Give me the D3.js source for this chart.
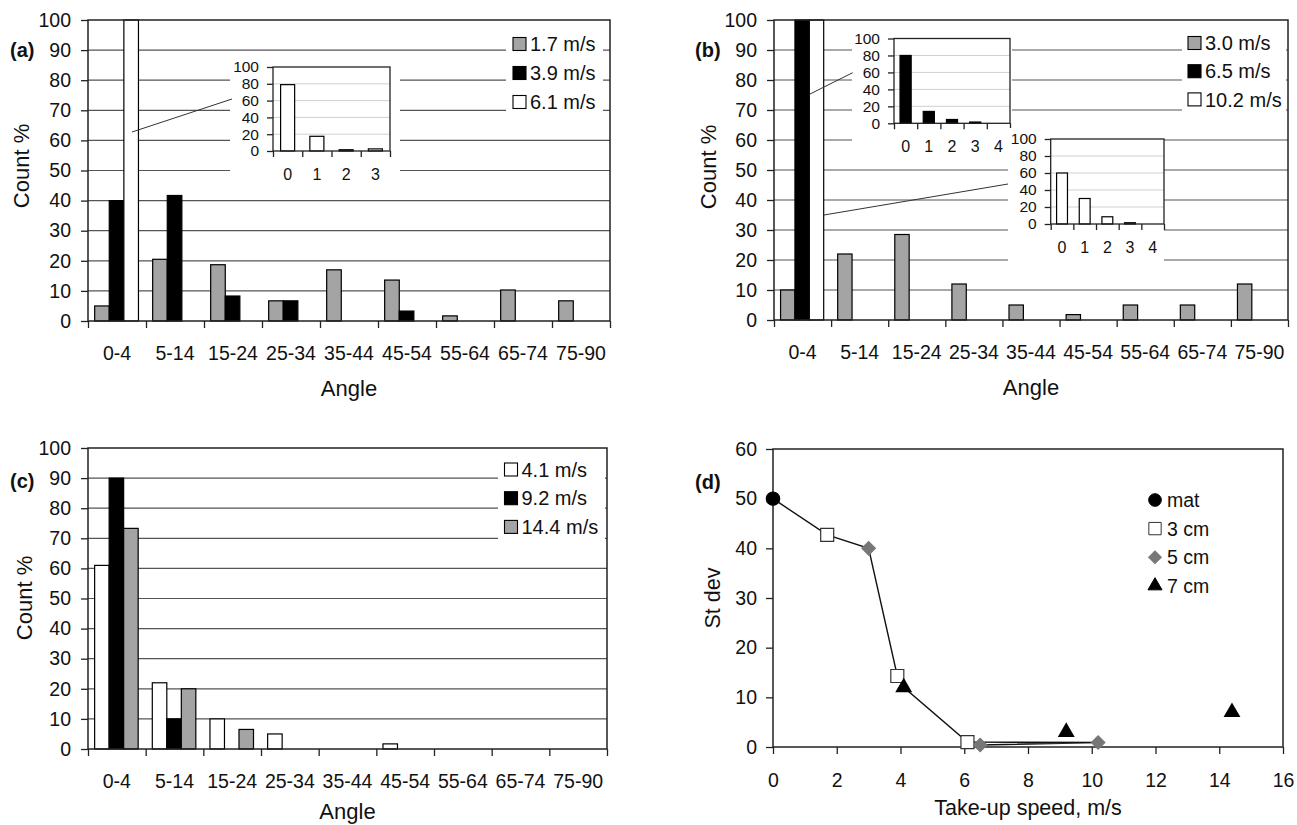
<!DOCTYPE html>
<meta charset="utf-8">
<script src="https://d3js.org/d3.v7.min.js"></script>
<style>
  body { margin: 0; background: #fff; }
</style>
<svg id="fig" width="1297" height="825"></svg>
<script>

// shared categories and ticks
var angleBins = ["0-4", "5-14", "15-24", "25-34", "35-44", "45-54", "55-64", "65-74", "75-90"];
var countTicks = [0, 10, 20, 30, 40, 50, 60, 70, 80, 90, 100];
var insetTicks = [0, 20, 40, 60, 80, 100];

// (a)
var speedsA = ["1.7 m/s", "3.9 m/s", "6.1 m/s"];
var countA17 = [5, 20.5, 18.7, 6.7, 17, 13.6, 1.7, 10.3, 6.7];
var countA39 = [40, 41.7, 8.3, 6.7, 0, 3.3, 0, 0, 0];
var countA61 = [100, 0, 0, 0, 0, 0, 0, 0, 0];
var insetBinsA = ["0", "1", "2", "3"];
var insetA61 = [79, 17.5, 1.5, 2.5];

// (b)
var speedsB = ["3.0 m/s", "6.5 m/s", "10.2 m/s"];
var countB30 = [10, 22, 28.5, 12, 5, 1.8, 5, 5, 12];
var countB65 = [100, 0, 0, 0, 0, 0, 0, 0, 0];
var countB102 = [100, 0, 0, 0, 0, 0, 0, 0, 0];
var insetBinsB = ["0", "1", "2", "3", "4"];
var insetB65 = [80, 14, 4.5, 1.5, 0];
var insetB102 = [60, 30, 8.5, 1.5, 0];

// (c)
var speedsC = ["4.1 m/s", "9.2 m/s", "14.4 m/s"];
var countC41 = [61, 22, 10, 5, 0, 1.7, 0, 0, 0];
var countC92 = [90, 10, 0, 0, 0, 0, 0, 0, 0];
var countC144 = [73.3, 20, 6.5, 0, 0, 0, 0, 0, 0];

// (d) st dev vs take-up speed
var groupsD = ["mat", "3 cm", "5 cm", "7 cm"];
var matX = [0], matY = [50];
var cm3X = [1.7, 3.9, 6.1], cm3Y = [42.7, 14.3, 1.0];
var cm5X = [3.0, 6.5, 10.2], cm5Y = [40, 0.4, 0.9];
var cm7X = [4.1, 9.2, 14.4], cm7Y = [12, 3, 7];
// order the points are joined in
var lineX = [0, 1.7, 3.0, 3.9, 4.1, 6.1, 10.2, 6.5];
var lineY = [50, 42.7, 40, 14.3, 12, 1.0, 0.9, 0.4];

var FONT = "Liberation Sans, Arial, Helvetica, sans-serif";
var GRAY = "#a4a4a4";
var svg = d3.select("#fig");

function styleAxis(sel, size) {
  sel.attr("font-family", FONT).attr("font-size", size);
  sel.select(".domain").remove();
  sel.selectAll("line").attr("stroke", "#222").attr("stroke-width", 1.3);
  sel.selectAll("text").attr("fill", "#111");
}

function drawInset(g, s) {
  g.append("rect")
    .attr("x", s.bg[0]).attr("y", s.bg[1]).attr("width", s.bg[2]).attr("height", s.bg[3])
    .attr("fill", "#fff");

  var x = d3.scaleBand().domain(s.bins).range([s.x0, s.x1]);
  var y = d3.scaleLinear().domain([0, 100]).range([s.y1, s.y0]);

  g.append("g").selectAll("line")
    .data(insetTicks.slice(1, -1))
    .join("line")
      .attr("x1", s.x0).attr("x2", s.x1)
      .attr("y1", y).attr("y2", y)
      .attr("stroke", "#d0d0d0").attr("stroke-width", 1);

  var bw = x.bandwidth() * 0.48;
  g.append("g").selectAll("rect")
    .data(s.values.map(function(v, i) { return { bin: s.bins[i], v: v }; }).filter(function(d) { return d.v > 0; }))
    .join("rect")
      .attr("x", function(d) { return x(d.bin) + (x.bandwidth() - bw) / 2; })
      .attr("width", bw)
      .attr("y", function(d) { return y(d.v); })
      .attr("height", function(d) { return y(0) - y(d.v); })
      .attr("fill", s.fill).attr("stroke", "#000").attr("stroke-width", 1.2);

  g.append("rect")
    .attr("x", s.x0).attr("y", s.y0).attr("width", s.x1 - s.x0).attr("height", s.y1 - s.y0)
    .attr("fill", "none").attr("stroke", "#222").attr("stroke-width", 1.3);

  g.append("g").attr("transform", "translate(" + s.x0 + ",0)")
    .call(d3.axisLeft(y).tickValues(insetTicks).tickSizeInner(6).tickSizeOuter(0).tickPadding(8))
    .call(styleAxis, 15.5);

  g.append("g").attr("transform", "translate(0," + s.y1 + ")")
    .call(d3.axisBottom(d3.scaleLinear().domain([0, s.bins.length]).range([s.x0, s.x1]))
      .tickValues(d3.range(s.bins.length + 1)).tickFormat("").tickSizeInner(6).tickSizeOuter(0))
    .call(styleAxis, 15.5);

  g.append("g").attr("transform", "translate(0," + s.y1 + ")")
    .call(d3.axisBottom(x).tickSize(0).tickPadding(17.5))
    .call(styleAxis, 16);
}

function barPanel(p) {
  var g = svg.append("g");
  var x = d3.scaleBand().domain(angleBins).range([p.x0, p.x1]);
  var slot = d3.scaleBand().domain(d3.range(p.values.length))
    .range([x.bandwidth() * 0.115, x.bandwidth() * 0.87]);
  var y = d3.scaleLinear().domain([0, 100]).range([p.y1, p.y0]);

  // gridlines
  g.append("g").selectAll("line")
    .data(countTicks.slice(1, -1))
    .join("line")
      .attr("x1", p.x0).attr("x2", p.x1)
      .attr("y1", y).attr("y2", y)
      .attr("stroke", "#555").attr("stroke-width", 1.2);

  // bars
  p.values.forEach(function(vals, i) {
    g.append("g").selectAll("rect")
      .data(vals.map(function(v, j) { return { bin: angleBins[j], v: v }; }).filter(function(d) { return d.v > 0; }))
      .join("rect")
        .attr("x", function(d) { return x(d.bin) + slot(i); })
        .attr("width", slot.bandwidth())
        .attr("y", function(d) { return y(d.v); })
        .attr("height", function(d) { return y(0) - y(d.v); })
        .attr("fill", p.fills[i]).attr("stroke", "#000").attr("stroke-width", 1.2);
  });

  // legend
  var lg = g.append("g");
  lg.append("rect")
    .attr("x", p.legend.bg[0]).attr("y", p.legend.bg[1])
    .attr("width", p.legend.bg[2]).attr("height", p.legend.bg[3])
    .attr("fill", "#fff");
  var rows = lg.selectAll("g.row").data(p.names).join("g")
    .attr("transform", function(d, i) { return "translate(" + p.legend.x + "," + (p.legend.y + i * p.legend.dy) + ")"; });
  rows.append("rect")
    .attr("x", 0).attr("y", -6.5).attr("width", 13).attr("height", 13)
    .attr("fill", function(d, i) { return p.fills[i]; })
    .attr("stroke", "#000").attr("stroke-width", 1.1);
  rows.append("text")
    .attr("x", 17).attr("dy", "0.36em")
    .attr("font-family", FONT).attr("font-size", 20).attr("fill", "#111")
    .text(function(d) { return d; });

  // insets with their leader lines
  (p.insets || []).forEach(function(s) { drawInset(g, s); });
  (p.links || []).forEach(function(l) {
    g.append("line")
      .attr("x1", l[0]).attr("y1", l[1]).attr("x2", l[2]).attr("y2", l[3])
      .attr("stroke", "#333").attr("stroke-width", 1);
  });

  // frame
  g.append("rect")
    .attr("x", p.x0).attr("y", p.y0).attr("width", p.x1 - p.x0).attr("height", p.y1 - p.y0)
    .attr("fill", "none").attr("stroke", "#222").attr("stroke-width", 1.5);

  // axes
  g.append("g").attr("transform", "translate(" + p.x0 + ",0)")
    .call(d3.axisLeft(y).tickValues(countTicks).tickSizeInner(7).tickSizeOuter(0).tickPadding(10))
    .call(styleAxis, 19.5);

  g.append("g").attr("transform", "translate(0," + p.y1 + ")")
    .call(d3.axisBottom(d3.scaleLinear().domain([0, angleBins.length]).range([p.x0, p.x1]))
      .tickValues(d3.range(angleBins.length + 1)).tickFormat("").tickSizeInner(7).tickSizeOuter(0))
    .call(styleAxis, 19.5);

  g.append("g").attr("transform", "translate(0," + p.y1 + ")")
    .call(d3.axisBottom(x).tickSize(0).tickPadding(25))
    .call(styleAxis, 19.5);

  // titles
  g.append("text")
    .attr("x", (p.x0 + p.x1) / 2).attr("y", Math.min(p.y1 + 75, 819))
    .attr("text-anchor", "middle")
    .attr("font-family", FONT).attr("font-size", 22).attr("fill", "#111")
    .text("Angle");
  g.append("text")
    .attr("transform", "translate(" + p.ylab[0] + "," + p.ylab[1] + ") rotate(-90)")
    .attr("text-anchor", "middle")
    .attr("font-family", FONT).attr("font-size", 22).attr("fill", "#111")
    .text("Count %");
  g.append("text")
    .attr("x", p.tag[0]).attr("y", p.tag[1])
    .attr("font-family", FONT).attr("font-size", 20).attr("font-weight", "bold").attr("fill", "#111")
    .text(p.tagText);
}

barPanel({
  x0: 88, x1: 610, y0: 20, y1: 321,
  names: speedsA,
  values: [countA17, countA39, countA61],
  fills: [GRAY, "#000", "#fff"],
  legend: { x: 513, y: 44, dy: 29, bg: [506, 30, 97, 86] },
  insets: [{
    x0: 273, x1: 390, y0: 67, y1: 151, bg: [230, 60, 170, 125],
    bins: insetBinsA, values: insetA61, fill: "#fff"
  }],
  links: [[132, 132, 232, 99]],
  ylab: [29, 166], tag: [10, 57], tagText: "(a)"
});

barPanel({
  x0: 774, x1: 1288, y0: 20, y1: 320,
  names: speedsB,
  values: [countB30, countB65, countB102],
  fills: [GRAY, "#000", "#fff"],
  legend: { x: 1188, y: 43, dy: 28.2, bg: [1182, 28, 104, 86] },
  insets: [{
    x0: 894, x1: 1010, y0: 38.5, y1: 123.3, bg: [852, 28, 160, 125],
    bins: insetBinsB, values: insetB65, fill: "#000"
  }, {
    x0: 1050.7, x1: 1164, y0: 139, y1: 224, bg: [1008, 128, 156, 140],
    bins: insetBinsB, values: insetB102, fill: "#fff"
  }],
  links: [[810, 94, 852.7, 72.7], [824, 215, 1008, 184]],
  ylab: [716, 167], tag: [695, 57], tagText: "(b)"
});

barPanel({
  x0: 88, x1: 607, y0: 448, y1: 749,
  names: speedsC,
  values: [countC41, countC92, countC144],
  fills: ["#fff", "#000", GRAY],
  legend: { x: 504.5, y: 469.5, dy: 28.7, bg: [498, 455, 107, 86] },
  ylab: [32, 598], tag: [10, 488], tagText: "(c)"
});

// (d) scatter with line
(function() {
  var x0 = 773, x1 = 1283, y0 = 449, y1 = 747;
  var g = svg.append("g");
  var x = d3.scaleLinear().domain([0, 16]).range([x0, x1]);
  var y = d3.scaleLinear().domain([0, 60]).range([y1, y0]);

  g.append("rect")
    .attr("x", x0).attr("y", y0).attr("width", x1 - x0).attr("height", y1 - y0)
    .attr("fill", "none").attr("stroke", "#222").attr("stroke-width", 1.5);

  g.append("g").attr("transform", "translate(" + x0 + ",0)")
    .call(d3.axisLeft(y).tickValues(d3.range(0, 61, 10)).tickSizeInner(7).tickSizeOuter(0).tickPadding(9))
    .call(styleAxis, 19.5);
  g.append("g").attr("transform", "translate(0," + y1 + ")")
    .call(d3.axisBottom(x).tickValues(d3.range(0, 17, 2)).tickSizeInner(7).tickSizeOuter(0).tickPadding(19))
    .call(styleAxis, 19.5);

  var line = d3.line().x(function(d) { return x(d[0]); }).y(function(d) { return y(d[1]); });
  g.append("path")
    .datum(d3.zip(lineX, lineY))
    .attr("d", line)
    .attr("fill", "none").attr("stroke", "#111").attr("stroke-width", 1.4);

  var marks = [
    { xs: matX, ys: matY, sym: d3.symbolCircle, size: 140, fill: "#000", stroke: "#000", rot: 0 },
    { xs: cm3X, ys: cm3Y, sym: d3.symbolSquare, size: 169, fill: "#fff", stroke: "#333", rot: 0 },
    { xs: cm5X, ys: cm5Y, sym: d3.symbolSquare, size: 90, fill: "#777", stroke: "#777", rot: 45 },
    { xs: cm7X, ys: cm7Y, sym: d3.symbolTriangle, size: 95, fill: "#000", stroke: "#000", rot: 0 }
  ];
  marks.forEach(function(m) {
    g.append("g").selectAll("path")
      .data(d3.zip(m.xs, m.ys))
      .join("path")
        .attr("d", d3.symbol().type(m.sym).size(m.size))
        .attr("transform", function(d) { return "translate(" + x(d[0]) + "," + y(d[1]) + ") rotate(" + m.rot + ")"; })
        .attr("fill", m.fill).attr("stroke", m.stroke).attr("stroke-width", 1.2);
  });

  // legend
  var rows = g.selectAll("g.leg").data(groupsD).join("g")
    .attr("transform", function(d, i) { return "translate(1155," + (500 + i * 28.6) + ")"; });
  rows.append("path")
    .attr("d", function(d, i) { return d3.symbol().type(marks[i].sym).size(marks[i].size * 0.9)(); })
    .attr("transform", function(d, i) { return "rotate(" + marks[i].rot + ")"; })
    .attr("fill", function(d, i) { return marks[i].fill; })
    .attr("stroke", function(d, i) { return marks[i].stroke; })
    .attr("stroke-width", 1);
  rows.append("text")
    .attr("x", 12).attr("dy", "0.36em")
    .attr("font-family", FONT).attr("font-size", 19.5).attr("fill", "#111")
    .text(function(d) { return d; });

  g.append("text")
    .attr("x", (x0 + x1) / 2).attr("y", 815)
    .attr("text-anchor", "middle")
    .attr("font-family", FONT).attr("font-size", 21.5).attr("fill", "#111")
    .text("Take-up speed, m/s");
  g.append("text")
    .attr("transform", "translate(720,598) rotate(-90)")
    .attr("text-anchor", "middle")
    .attr("font-family", FONT).attr("font-size", 21.5).attr("fill", "#111")
    .text("St dev");
  g.append("text")
    .attr("x", 695).attr("y", 489)
    .attr("font-family", FONT).attr("font-size", 20).attr("font-weight", "bold").attr("fill", "#111")
    .text("(d)");
})();

</script>
